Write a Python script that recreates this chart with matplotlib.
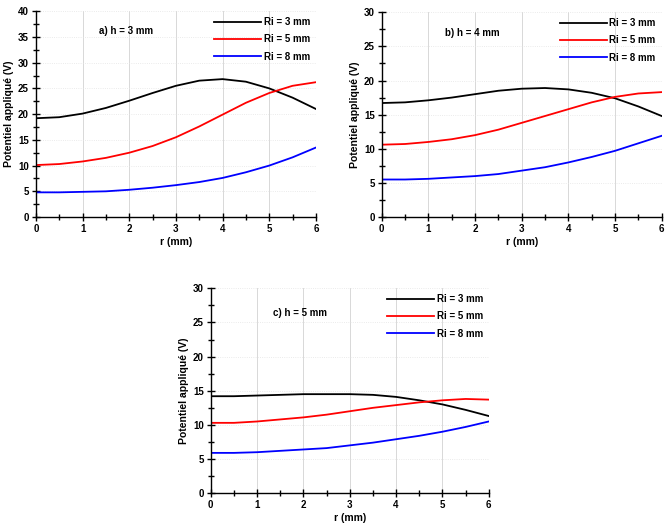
import matplotlib
matplotlib.use("Agg")
import matplotlib.pyplot as plt
from matplotlib.ticker import MultipleLocator

plt.rcParams['font.family'] = ['Liberation Sans', 'DejaVu Sans']
plt.rcParams['font.weight'] = 'bold'

# r positions (mm)
r = [0, 0.5, 1, 1.5, 2, 2.5, 3, 3.5, 4, 4.5, 5, 5.5, 6]

# a) h = 3 mm
a_ri3 = [19.2, 19.4, 20.1, 21.2, 22.6, 24.1, 25.5, 26.5, 26.8, 26.3, 25.0, 23.2, 21.0]
a_ri5 = [10.1, 10.3, 10.8, 11.5, 12.5, 13.8, 15.5, 17.6, 19.9, 22.2, 24.1, 25.5, 26.2]
a_ri8 = [4.8, 4.8, 4.9, 5.0, 5.3, 5.7, 6.2, 6.8, 7.6, 8.7, 10.0, 11.6, 13.5]

# b) h = 4 mm
b_ri3 = [16.7, 16.8, 17.1, 17.5, 18.0, 18.5, 18.8, 18.9, 18.7, 18.2, 17.4, 16.2, 14.8]
b_ri5 = [10.6, 10.7, 11.0, 11.4, 12.0, 12.8, 13.8, 14.8, 15.8, 16.8, 17.6, 18.1, 18.3]
b_ri8 = [5.5, 5.5, 5.6, 5.8, 6.0, 6.3, 6.8, 7.3, 8.0, 8.8, 9.7, 10.8, 11.9]

# c) h = 5 mm
c_ri3 = [14.2, 14.2, 14.3, 14.4, 14.5, 14.5, 14.5, 14.4, 14.1, 13.6, 13.0, 12.2, 11.3]
c_ri5 = [10.3, 10.3, 10.5, 10.8, 11.1, 11.5, 12.0, 12.5, 12.9, 13.3, 13.6, 13.8, 13.7]
c_ri8 = [5.9, 5.9, 6.0, 6.2, 6.4, 6.6, 7.0, 7.4, 7.9, 8.4, 9.0, 9.7, 10.5]

labels = ['Ri = 3 mm', 'Ri = 5 mm', 'Ri = 8 mm']
colors = ['black', 'red', 'blue']

panels = [
    ([0.054, 0.592, 0.421, 0.387], 'a) h = 3 mm', [a_ri3, a_ri5, a_ri8], 40, 35.5),
    ([0.574, 0.592, 0.421, 0.385], 'b) h = 4 mm', [b_ri3, b_ri5, b_ri8], 30, 26.5),
    ([0.317, 0.073, 0.418, 0.385], 'c) h = 5 mm', [c_ri3, c_ri5, c_ri8], 30, 26.0),
]

fig = plt.figure(figsize=(6.65, 5.32), dpi=100)

for rect, title, series, ymax, ytxt in panels:
    ax = fig.add_axes(rect)
    for ys, lab, col in zip(series, labels, colors):
        ax.plot(r, ys, color=col, lw=1.3, label=lab)
    ax.set_xlim(0, 6)
    ax.set_ylim(0, ymax)
    ax.xaxis.set_major_locator(MultipleLocator(1))
    ax.xaxis.set_minor_locator(MultipleLocator(0.5))
    ax.yaxis.set_major_locator(MultipleLocator(5))
    ax.yaxis.set_minor_locator(MultipleLocator(2.5))
    ax.grid(True, which='major', axis='x', color='#d8d8d8', lw=0.7)
    ax.grid(True, which='major', axis='y', color='#e4e4e4', lw=0.6, ls=':')
    ax.spines['top'].set_visible(False)
    ax.spines['right'].set_visible(False)
    ax.spines['left'].set_linewidth(1.0)
    ax.spines['bottom'].set_linewidth(1.0)
    ax.tick_params(which='major', direction='inout', length=6, width=1.0,
                   labelsize=7, pad=2)
    ax.tick_params(which='minor', direction='inout', length=4, width=1.0)
    for t in ax.get_xticklabels() + ax.get_yticklabels():
        t.set_fontweight('bold')
    ax.set_xlabel('r (mm)', fontsize=7.5, fontweight='bold', labelpad=2)
    ax.set_ylabel('Potentiel appliqué (V)', fontsize=7.5, fontweight='bold', labelpad=3)
    ax.text(1.35, ytxt, title, fontsize=7, fontweight='bold')
    leg = ax.legend(loc='upper right', frameon=False, fontsize=7,
                    handlelength=4.8, handletextpad=0.3, labelspacing=0.75,
                    borderaxespad=0.2)
    for t in leg.get_texts():
        t.set_fontweight('bold')

fig.savefig('out.png', dpi=100, facecolor='white')
